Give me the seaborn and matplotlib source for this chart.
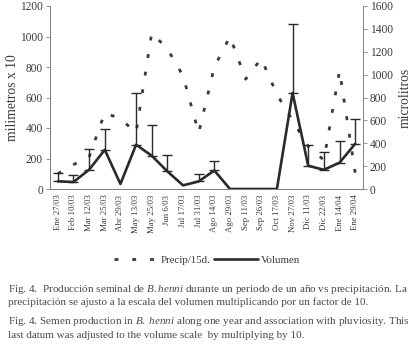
import numpy as np
import pandas as pd
import seaborn as sns
import matplotlib
matplotlib.use("Agg")
import matplotlib.pyplot as plt

# ---------------------------
# Data
# ---------------------------
fechas = ["Ene 27/03", "Feb 10/03", "Mar 12/03", "Mar 25/03", "Abr 29/03",
          "May 13/03", "May 25/03", "Jun 6/03", "Jul 17/03", "Jul 31/03",
          "Ago 14/03", "Ago 29/03", "Sep 11/03", "Sep 26/03", "Oct 17/03",
          "Nov 27/03", "Dic 11/03", "Dic 22/03", "Ene 14/04", "Ene 29/04"]

# precipitation (milimetros x 10, left axis)
precip = [100, 160, 210, 500, 460, 370, 1024, 919, 742, 368,
          800, 1000, 720, 855, 620, 450, 279, 190, 776, 107]

# semen volume (microlitros, right axis)
volumen = [67, 61, 169, 343, 44, 387, 291, 154, 32, 66,
           162, 0, 0, 0, 0, 840, 203, 168, 230, 395]

# upper error bar (0 = no bar)
error_sup = [73, 58, 183, 181, 0, 448, 270, 139, 0, 65,
             85, 0, 0, 0, 0, 603, 178, 152, 194, 216]

df = pd.DataFrame({"fecha": fechas, "pos": np.arange(len(fechas)),
                   "precip": precip, "volumen": volumen, "err": error_sup})

# ---------------------------
# Style
# ---------------------------
sns.set_style("white")
plt.rcParams["font.family"] = ["Liberation Serif", "DejaVu Serif"]
plt.rcParams["mathtext.fontset"] = "custom"
plt.rcParams["mathtext.rm"] = "Liberation Serif"
plt.rcParams["mathtext.it"] = "Liberation Serif:italic"

txt = "#3a3a3a"
grey = "#808080"

fig = plt.figure(figsize=(4.17, 3.48), dpi=100)
ax = fig.add_axes([50 / 417, 1 - 189 / 348, 313 / 417, 183 / 348])

sns.lineplot(data=df, x="pos", y="precip", ax=ax, color="#3a3a3a",
             linewidth=2.0, linestyle=(0, (1.4, 5.0)), label="Precip/15d.",
             legend=False)

ax2 = ax.twinx()
sns.lineplot(data=df, x="pos", y="volumen", ax=ax2, color="#2a2a2a",
             linewidth=1.9, label="Volumen", legend=False)

m = df["err"] > 0
ax2.errorbar(df["pos"][m], df["volumen"][m],
             yerr=[np.zeros(m.sum()), df["err"][m]],
             fmt="none", ecolor="#2a2a2a", elinewidth=1.0,
             capsize=3.5, capthick=1.0)

# axes limits / ticks
n = len(fechas)
ax.set_xlim(-0.5, n - 0.5)
ax.set_ylim(0, 1200)
ax2.set_ylim(0, 1600)
ax.set_yticks(range(0, 1201, 200))
ax2.set_yticks(range(0, 1601, 200))

ax.set_xticks(df["pos"])
ax.set_xticklabels(fechas, rotation=90, fontsize=6.3, color=txt)
ax.tick_params(axis="x", which="major", length=0, pad=4)
ax.set_xticks(np.arange(-0.5, n, 1), minor=True)
ax.tick_params(axis="x", which="minor", length=3, direction="inout",
               color=grey, width=0.6)
ax.tick_params(axis="y", labelsize=8.3, labelcolor=txt, length=3,
               color=grey, width=0.6, left=True, pad=2)
ax2.tick_params(axis="y", labelsize=8.3, labelcolor=txt, length=3,
                color=grey, width=0.6, right=True, pad=2)

for a in (ax, ax2):
    a.spines["top"].set_visible(False)
    for s in ("left", "right", "bottom"):
        a.spines[s].set_color(grey)
        a.spines[s].set_linewidth(0.7)
ax.spines["right"].set_visible(False)

ax.set_xlabel("")
ax.set_ylabel("milimetros x 10", fontsize=9.8, color=txt)
ax.yaxis.set_label_coords(-0.098, 0.5)
ax2.set_ylabel("microlitros", fontsize=9.8, color=txt, rotation=90)
ax2.yaxis.set_label_coords(1.115, 0.5)

# legend
h1, l1 = ax.get_legend_handles_labels()
h2, l2 = ax2.get_legend_handles_labels()
fig.legend(h1 + h2, l1 + l2, loc="center",
           bbox_to_anchor=(207 / 417, 1 - 260 / 348), ncol=2,
           frameon=False, fontsize=7.8, handlelength=4.0,
           columnspacing=0.4, handletextpad=0.3, labelcolor=txt)

# caption
cap = [
    (289, "Fig. 4.  Producción seminal de $\\mathit{B.henni}$ durante un periodo de un año vs precipitación. La"),
    (302, "precipitación se ajusto a la escala del volumen multiplicando por un factor de 10."),
    (321, "Fig. 4. Semen production in $\\mathit{B.\\ henni}$ along one year and association with pluviosity. This"),
    (335, "last datum was adjusted to the volume scale  by multiplying by 10."),
]
for y, s in cap:
    fig.text(8 / 417, 1 - y / 348, s, fontsize=8.0, color="#4a4a4a",
             va="center", ha="left")

fig.savefig("out.png", dpi=100)
